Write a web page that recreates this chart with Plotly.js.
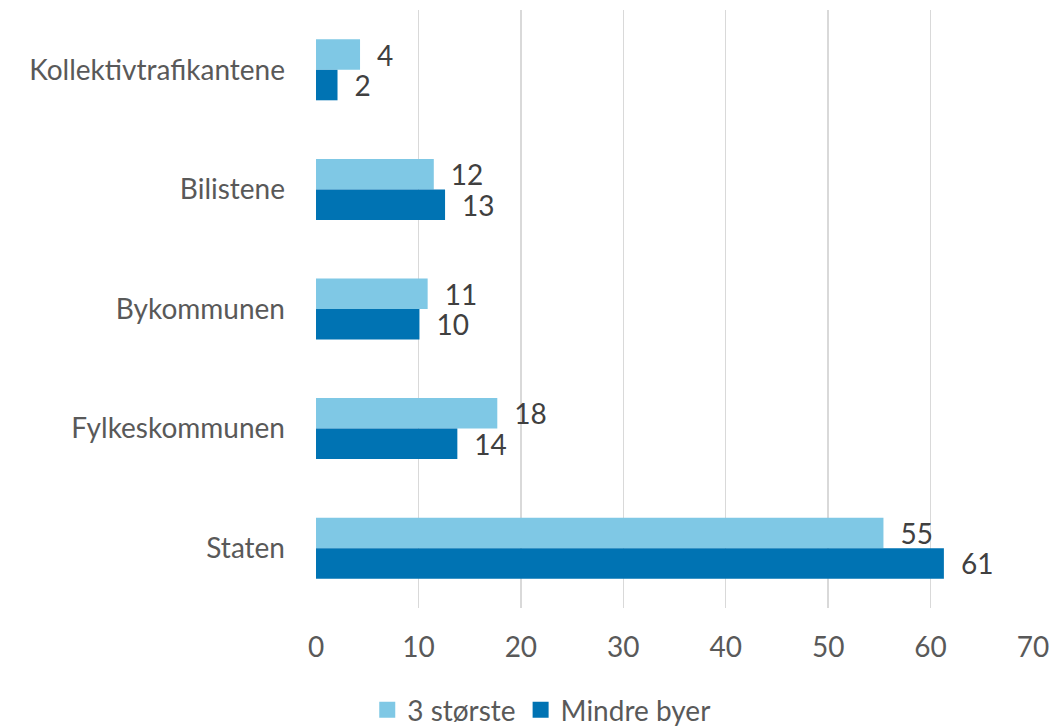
<!DOCTYPE html>
<html>
<head>
<meta charset="utf-8">
<script src="https://cdn.plot.ly/plotly-3.0.1.min.js"></script>
<style>html,body{margin:0;padding:0;background:#fff;}#chart{width:1054px;height:726px;}</style>
</head>
<body>
<div id="chart"></div>
<script>
const categories = ['Kollektivtrafikantene', 'Bilistene', 'Bykommunen', 'Fylkeskommunen', 'Staten'];
const seriesNames = ['3 største', 'Mindre byer'];
const storste = [4.3, 11.5, 10.9, 17.7, 55.4];
const mindre = [2.1, 12.6, 10.1, 13.8, 61.3];
const storsteLabels = ['4', '12', '11', '18', '55'];
const mindreLabels = ['2', '13', '10', '14', '61'];
const xTicks = [0, 10, 20, 30, 40, 50, 60, 70];
const colors = ['#7FC8E5', '#0073B3'];

const font = "Lato, 'Open Sans', sans-serif";
const pad = s => '\u2002' + s;

const traces = [
  {type: 'bar', orientation: 'h', name: seriesNames[0], y: categories, x: storste,
   text: storsteLabels.map(pad), textposition: 'outside', cliponaxis: false, constraintext: 'none',
   textfont: {size: 28, color: '#404040', family: font},
   marker: {color: colors[0]}, hoverinfo: 'x+y', showlegend: false},
  {type: 'bar', orientation: 'h', name: seriesNames[1], y: categories, x: mindre,
   text: mindreLabels.map(pad), textposition: 'outside', cliponaxis: false, constraintext: 'none',
   textfont: {size: 28, color: '#404040', family: font},
   marker: {color: colors[1]}, hoverinfo: 'x+y', showlegend: false},
  {type: 'scatter', mode: 'markers', name: seriesNames[0], x: [null], y: [null],
   marker: {symbol: 'square', size: 18, color: colors[0]}, showlegend: true},
  {type: 'scatter', mode: 'markers', name: seriesNames[1], x: [null], y: [null],
   marker: {symbol: 'square', size: 18, color: colors[1]}, showlegend: true}
];

const layout = {
  width: 1054, height: 726,
  margin: {l: 316, r: 21, t: 10, b: 118},
  paper_bgcolor: '#fff', plot_bgcolor: '#fff',
  font: {family: font, size: 28, color: '#595959'},
  barmode: 'group', bargap: 0.49, bargroupgap: 0,
  xaxis: {range: [0, 70], tickvals: xTicks, ticktext: xTicks.map(String),
          showgrid: true, gridcolor: '#D9D9D9', gridwidth: 1.5, zeroline: false,
          showline: false, ticks: '', ticklabelstandoff: 20,
          tickfont: {size: 28, color: '#595959'}, fixedrange: true},
  yaxis: {autorange: 'reversed', type: 'category', showgrid: false, zeroline: false,
          showline: false, ticks: '', ticklabelstandoff: 30,
          tickfont: {size: 28, color: '#595959'}, fixedrange: true},
  showlegend: true,
  legend: {orientation: 'h', xref: 'container', yref: 'container', x: 0.514, xanchor: 'center',
           y: 0.022, yanchor: 'middle', font: {size: 28, color: '#595959'},
           itemwidth: 30, tracegroupgap: 0, traceorder: 'normal'}
};

Plotly.newPlot('chart', traces, layout, {displayModeBar: false, staticPlot: true});
</script>
</body>
</html>
